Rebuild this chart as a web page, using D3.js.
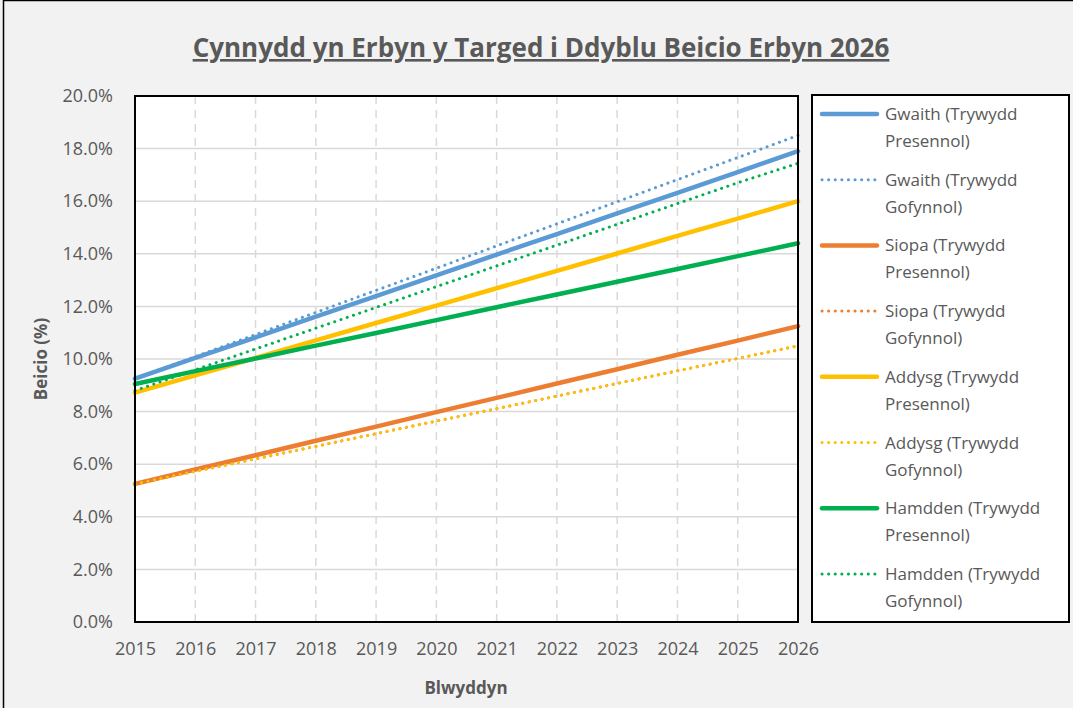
<!DOCTYPE html>
<html>
<head>
<meta charset="utf-8">
<script src="https://cdn.jsdelivr.net/npm/d3@7"></script>
<style>
body { margin: 0; background: #f2f2f2; }
svg { display: block; font-family: "Open Sans", "Noto Sans", sans-serif; }
</style>
</head>
<body>
<svg id="chart" width="1073" height="708"></svg>
<script>
var years = [2015, 2016, 2017, 2018, 2019, 2020, 2021, 2022, 2023, 2024, 2025, 2026];
var yTicks = [0, 2, 4, 6, 8, 10, 12, 14, 16, 18, 20];

// percentages
var gwaithPresennol = [9.25, 10.04, 10.82, 11.61, 12.39, 13.18, 13.97, 14.75, 15.54, 16.32, 17.11, 17.90];
var gwaithGofynnol = [9.25, 10.09, 10.93, 11.77, 12.61, 13.45, 14.30, 15.14, 15.98, 16.82, 17.66, 18.50];
var siopaPresennol = [5.25, 5.80, 6.34, 6.89, 7.43, 7.98, 8.52, 9.07, 9.61, 10.16, 10.70, 11.25];
var siopaGofynnol = [5.25, 5.73, 6.20, 6.68, 7.16, 7.64, 8.11, 8.59, 9.07, 9.55, 10.02, 10.50];
var addysgPresennol = [8.72, 9.38, 10.04, 10.71, 11.37, 12.03, 12.69, 13.35, 14.01, 14.68, 15.34, 16.00];
var addysgGofynnol = [5.25, 5.73, 6.20, 6.68, 7.16, 7.64, 8.11, 8.59, 9.07, 9.55, 10.02, 10.50];
var hamddenPresennol = [9.05, 9.54, 10.02, 10.51, 10.99, 11.48, 11.97, 12.45, 12.94, 13.42, 13.91, 14.40];
var hamddenGofynnol = [8.80, 9.59, 10.38, 11.17, 11.96, 12.75, 13.54, 14.33, 15.12, 15.91, 16.70, 17.44];

var seriesNames = [
	["Gwaith (Trywydd", "Presennol)"], ["Gwaith (Trywydd", "Gofynnol)"],
	["Siopa (Trywydd", "Presennol)"], ["Siopa (Trywydd", "Gofynnol)"],
	["Addysg (Trywydd", "Presennol)"], ["Addysg (Trywydd", "Gofynnol)"],
	["Hamdden (Trywydd", "Presennol)"], ["Hamdden (Trywydd", "Gofynnol)"]
];
var seriesValues = [gwaithPresennol, gwaithGofynnol, siopaPresennol, siopaGofynnol,
	addysgPresennol, addysgGofynnol, hamddenPresennol, hamddenGofynnol];
var seriesColors = ["#5b9bd5", "#5b9bd5", "#ed7d31", "#ed7d31", "#ffc000", "#ffc000", "#00b050", "#00b050"];
var seriesDotted = [false, true, false, true, false, true, false, true];

var series = seriesNames.map(function(n, i) {
	return {name: n, values: seriesValues[i], color: seriesColors[i], dotted: seriesDotted[i]};
});

var svg = d3.select("#chart");
var plotLeft = 135, plotRight = 798, plotTop = 96, plotBottom = 622;

// outer chart frame
svg.append("rect")
	.attr("x", 3.5).attr("y", 0.5)
	.attr("width", 1090).attr("height", 720)
	.attr("fill", "#f2f2f2").attr("stroke", "#000").attr("stroke-width", 1.5);

var x = d3.scaleLinear().domain([2015, 2026]).range([plotLeft, plotRight]);
var y = d3.scaleLinear().domain([0, 20]).range([plotBottom, plotTop]);

svg.append("rect")
	.attr("x", plotLeft).attr("y", plotTop)
	.attr("width", plotRight - plotLeft).attr("height", plotBottom - plotTop)
	.attr("fill", "#fff");

// grid lines
svg.append("g").selectAll("line").data(yTicks.slice(1, -1))
	.enter().append("line")
	.attr("x1", plotLeft).attr("x2", plotRight)
	.attr("y1", function(d) { return y(d); })
	.attr("y2", function(d) { return y(d); })
	.attr("stroke", "#d9d9d9").attr("stroke-width", 1.5);

svg.append("g").selectAll("line").data(years.slice(1, -1))
	.enter().append("line")
	.attr("x1", function(d) { return x(d); })
	.attr("x2", function(d) { return x(d); })
	.attr("y1", plotTop).attr("y2", plotBottom)
	.attr("stroke", "#d9d9d9").attr("stroke-width", 1.5)
	.attr("stroke-dasharray", "8,6");

// tick labels via d3 axes
var yAxis = svg.append("g")
	.attr("transform", "translate(" + plotLeft + ",0)")
	.call(d3.axisLeft(y).tickValues(yTicks).tickSize(0).tickPadding(22)
		.tickFormat(function(d) { return d.toFixed(1) + "%"; }));
yAxis.select(".domain").remove();
yAxis.selectAll("text").attr("font-size", 18).attr("fill", "#595959")
	.attr("font-family", "Open Sans, sans-serif");

var xAxis = svg.append("g")
	.attr("transform", "translate(0," + plotBottom + ")")
	.call(d3.axisBottom(x).tickValues(years).tickSize(0).tickPadding(20)
		.tickFormat(d3.format("d")));
xAxis.select(".domain").remove();
xAxis.selectAll("text").attr("font-size", 18).attr("fill", "#595959")
	.attr("font-family", "Open Sans, sans-serif");

// series lines
var line = d3.line()
	.x(function(d, i) { return x(years[i]); })
	.y(function(d) { return y(d); });

svg.append("g").selectAll("path").data(series)
	.enter().append("path")
	.attr("d", function(d) { return line(d.values); })
	.attr("fill", "none")
	.attr("stroke", function(d) { return d.color; })
	.attr("stroke-width", function(d) { return d.dotted ? 3 : 4.5; })
	.attr("stroke-linecap", "round")
	.attr("stroke-dasharray", function(d) { return d.dotted ? "0.1,6.5" : null; });

// plot frame
svg.append("rect")
	.attr("x", plotLeft).attr("y", plotTop)
	.attr("width", plotRight - plotLeft).attr("height", plotBottom - plotTop)
	.attr("fill", "none").attr("stroke", "#000").attr("stroke-width", 2);

// title
svg.append("text")
	.attr("x", 541).attr("y", 57)
	.attr("text-anchor", "middle")
	.attr("font-size", 26).attr("font-weight", "bold")
	.attr("fill", "#595959")
	.attr("text-decoration", "underline")
	.text("Cynnydd yn Erbyn y Targed i Ddyblu Beicio Erbyn 2026");

svg.append("text")
	.attr("x", 466).attr("y", 694)
	.attr("text-anchor", "middle")
	.attr("font-size", 17).attr("font-weight", "bold").attr("fill", "#595959")
	.text("Blwyddyn");

svg.append("text")
	.attr("transform", "translate(47," + ((plotTop + plotBottom) / 2) + ") rotate(-90)")
	.attr("text-anchor", "middle")
	.attr("font-size", 17).attr("font-weight", "bold").attr("fill", "#595959")
	.text("Beicio (%)");

// legend
svg.append("rect")
	.attr("x", 812).attr("y", 95)
	.attr("width", 257).attr("height", 527)
	.attr("fill", "#fff").attr("stroke", "#000").attr("stroke-width", 2);

var legend = svg.append("g").selectAll("g").data(series)
	.enter().append("g")
	.attr("transform", function(d, i) { return "translate(0," + (114 + i * 65.7) + ")"; });

legend.append("line")
	.attr("x1", 822).attr("x2", 877)
	.attr("stroke", function(d) { return d.color; })
	.attr("stroke-width", function(d) { return d.dotted ? 3 : 4.5; })
	.attr("stroke-linecap", "round")
	.attr("stroke-dasharray", function(d) { return d.dotted ? "0.1,6.5" : null; });

legend.append("text")
	.attr("x", 885).attr("y", 6)
	.attr("font-size", 17).attr("fill", "#595959")
	.text(function(d) { return d.name[0]; });

legend.append("text")
	.attr("x", 885).attr("y", 33)
	.attr("font-size", 17).attr("fill", "#595959")
	.text(function(d) { return d.name[1]; });
</script>
</body>
</html>
